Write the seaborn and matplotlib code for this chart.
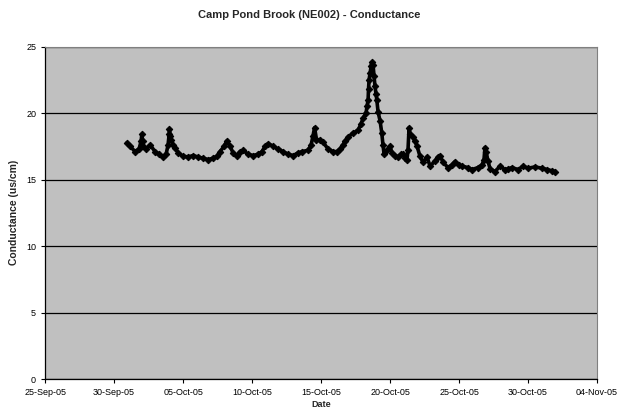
import pandas as pd
import numpy as np
import matplotlib
matplotlib.use("Agg")
import matplotlib.pyplot as plt
import matplotlib.dates as mdates
import seaborn as sns

# days since 25-Sep-05 and conductance readings
day_offset = [5.92, 6.16, 6.52, 6.81, 6.96, 7.01, 7.07, 7.10, 7.32, 7.61,
              7.97, 8.26, 8.55, 8.77, 8.91, 8.99, 9.01, 9.06, 9.13, 9.28,
              9.42, 9.64, 10.0, 10.36, 10.72, 11.09, 11.45, 11.81, 12.17, 12.46,
              12.68, 12.97, 13.17, 13.41, 13.62, 13.91, 14.13, 14.35, 14.71, 15.07,
              15.43, 15.72, 15.94, 16.16, 16.52, 16.88, 17.25, 17.61, 17.97, 18.33,
              18.62, 19.06, 19.28, 19.42, 19.53, 19.67, 19.93, 20.14, 20.51, 20.87,
              21.16, 21.38, 21.59, 21.74, 21.96, 22.32, 22.68, 22.90, 23.04, 23.26,
              23.33, 23.41, 23.44, 23.48, 23.55, 23.62, 23.67, 23.77, 23.84, 23.91,
              23.99, 24.04, 24.13, 24.28, 24.40, 24.49, 24.57, 24.76, 25.0, 25.14,
              25.36, 25.58, 25.80, 25.94, 26.09, 26.23, 26.30, 26.38, 26.45, 26.67,
              26.81, 26.96, 27.17, 27.39, 27.68, 27.90, 28.26, 28.48, 28.62, 28.84,
              29.20, 29.49, 29.71, 30.0, 30.22, 30.65, 30.94, 31.38, 31.67, 31.81,
              31.88, 31.96, 32.10, 32.25, 32.61, 32.97, 33.33, 33.55, 33.84, 34.28,
              34.64, 35.0, 35.51, 36.01, 36.38, 36.74, 36.96]
conductance = [17.75, 17.5, 17.1, 17.3, 17.9, 18.4, 17.9, 17.5, 17.3, 17.6,
               17.1, 16.9, 16.7, 16.9, 17.6, 18.4, 18.8, 18.3, 18.0, 17.6,
               17.4, 17.0, 16.75, 16.7, 16.8, 16.7, 16.6, 16.5, 16.6, 16.75,
               17.1, 17.5, 17.9, 17.5, 17.0, 16.8, 17.1, 17.2, 16.9, 16.8,
               16.9, 17.1, 17.5, 17.7, 17.5, 17.3, 17.1, 16.9, 16.8, 17.0,
               17.1, 17.2, 17.6, 18.3, 18.9, 18.0, 18.0, 17.8, 17.3, 17.1,
               17.1, 17.3, 17.6, 17.9, 18.2, 18.5, 18.7, 19.2, 19.6, 20.0,
               20.5, 21.0, 21.8, 22.5, 23.0, 23.5, 23.8, 23.6, 22.8, 22.0,
               21.4, 21.0, 20.1, 19.4, 18.5, 17.6, 16.9, 17.2, 17.5, 17.0,
               16.8, 16.7, 16.9, 16.9, 16.6, 16.5, 17.2, 18.9, 18.4, 18.2,
               17.9, 17.5, 16.75, 16.3, 16.7, 16.0, 16.4, 16.7, 16.8, 16.3,
               15.9, 16.1, 16.35, 16.1, 16.0, 15.9, 15.75, 15.9, 16.1, 16.5,
               17.4, 17.1, 16.4, 15.8, 15.6, 16.0, 15.75, 15.8, 15.9, 15.75,
               16.0, 15.85, 15.95, 15.85, 15.75, 15.65, 15.6]

start = pd.Timestamp("2005-09-25")
df = pd.DataFrame({
    "Date": start + pd.to_timedelta(day_offset, unit="D"),
    "Conductance": conductance,
})

sns.set_style("ticks")
plt.rcParams["font.family"] = ["Liberation Sans", "DejaVu Sans"]

fig = plt.figure(figsize=(6.18, 4.08), dpi=100)
ax = fig.add_axes([0.073, 0.071, 0.893, 0.815])
ax.set_facecolor("#C0C0C0")

sns.lineplot(data=df, x="Date", y="Conductance", ax=ax, color="black",
             marker="D", markersize=3.3, markeredgecolor="black",
             linewidth=2.6, sort=False)

ax.set_xlim(pd.Timestamp("2005-09-25"), pd.Timestamp("2005-11-04"))
ax.set_ylim(0, 25)
ax.set_yticks([0, 5, 10, 15, 20, 25])
ticks = pd.date_range("2005-09-25", "2005-11-04", freq="5D")
ax.set_xticks(ticks)
ax.xaxis.set_major_formatter(mdates.DateFormatter("%d-%b-%y"))

ax.yaxis.grid(True, color="black", linewidth=0.9)
ax.xaxis.grid(False)
ax.set_axisbelow(True)

for s in ["top", "right"]:
    ax.spines[s].set_visible(True)
    ax.spines[s].set_color("#808080")
    ax.spines[s].set_linewidth(0.8)
for s in ["left", "bottom"]:
    ax.spines[s].set_color("black")
    ax.spines[s].set_linewidth(0.9)

ax.tick_params(axis="both", labelsize=6.5, length=3, width=0.8,
               colors="black", direction="out")

ax.set_xlabel("Date", fontsize=6.5, fontweight="bold", labelpad=2)
ax.set_ylabel("Conductance (us/cm)", fontsize=7.5, fontweight="bold", labelpad=5)
fig.suptitle("Camp Pond Brook (NE002) - Conductance", fontsize=8,
             fontweight="bold", y=0.975)

fig.savefig("out.png", dpi=100)
